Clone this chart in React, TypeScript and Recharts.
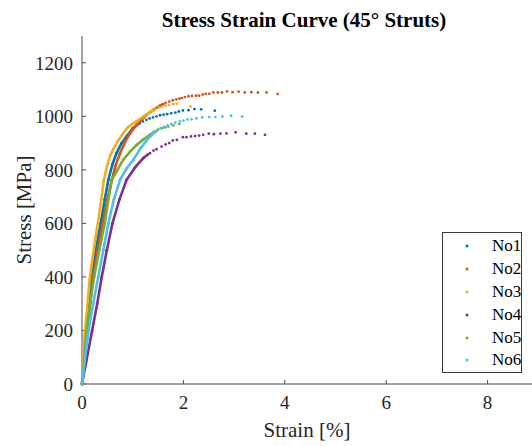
import React from "react";
import { ScatterChart, Scatter, XAxis, YAxis } from "recharts";

// Strain [%], stress [MPa] pairs per specimen.
// "dense" = the closely sampled loading part, "tail" = the sparser points near failure.
const no1Dense: [number, number][] = [
  [0, 0], [0.04, 80], [0.08, 200], [0.13, 300], [0.19, 400], [0.27, 500], [0.37, 600],
  [0.45, 690], [0.52, 763], [0.6, 820], [0.68, 862], [0.78, 900], [0.88, 925], [1.0, 955], [1.14, 975],
];
const no1Tail: [number, number][] = [
  [1.2, 981], [1.27, 987], [1.33, 992], [1.4, 996], [1.47, 1000], [1.54, 1004], [1.61, 1006],
  [1.68, 1008], [1.76, 1011], [1.84, 1014], [1.91, 1018], [1.99, 1022], [2.1, 1023], [2.22, 1027],
  [2.35, 1026], [2.62, 1021],
];

const no2Dense: [number, number][] = [
  [0, 0], [0.05, 80], [0.1, 200], [0.16, 300], [0.22, 400], [0.3, 490], [0.38, 570], [0.44, 630],
  [0.5, 690], [0.59, 763], [0.66, 815], [0.75, 862], [0.85, 905], [0.95, 937], [1.05, 962],
  [1.14, 981], [1.27, 1005], [1.41, 1024], [1.54, 1040], [1.6, 1045],
];
const no2Tail: [number, number][] = [
  [1.65, 1050], [1.72, 1055], [1.79, 1060], [1.86, 1063], [1.92, 1066], [1.97, 1068], [2.03, 1072],
  [2.1, 1075], [2.17, 1076], [2.25, 1077], [2.31, 1077], [2.38, 1081], [2.44, 1084], [2.51, 1084],
  [2.59, 1089], [2.68, 1089], [2.76, 1089], [2.86, 1093], [2.97, 1090], [3.09, 1092], [3.21, 1089],
  [3.34, 1090], [3.47, 1089], [3.64, 1089], [3.86, 1083],
];

const no3Dense: [number, number][] = [
  [0, 0], [0.02, 60], [0.05, 180], [0.1, 280], [0.15, 390], [0.2, 460], [0.26, 540], [0.32, 610],
  [0.38, 690], [0.43, 760], [0.5, 820], [0.56, 855], [0.62, 878], [0.7, 905], [0.81, 937],
  [0.9, 958], [1.0, 972], [1.08, 981], [1.2, 998], [1.31, 1012], [1.4, 1024],
];
const no3Tail: [number, number][] = [
  [1.45, 1028], [1.52, 1033], [1.58, 1036], [1.65, 1040], [1.72, 1043], [1.8, 1045], [1.87, 1047],
  [2.14, 1037],
];

const no4Dense: [number, number][] = [
  [0, 0], [0.08, 80], [0.2, 200], [0.3, 300], [0.39, 400], [0.49, 500], [0.6, 600], [0.74, 690],
  [0.88, 763], [1.05, 810], [1.21, 844], [1.3, 857],
];
const no4Tail: [number, number][] = [
  [1.34, 862], [1.41, 872], [1.47, 877], [1.57, 887], [1.65, 895], [1.72, 900], [1.79, 910],
  [1.87, 912], [1.99, 922], [2.06, 922], [2.15, 925], [2.23, 926], [2.31, 928], [2.39, 931],
  [2.5, 935], [2.6, 933], [2.73, 935], [2.85, 936], [3.03, 940], [3.24, 935], [3.41, 935], [3.61, 931],
];

const no5Dense: [number, number][] = [
  [0, 0], [0.04, 80], [0.09, 200], [0.16, 300], [0.24, 400], [0.34, 500], [0.45, 600], [0.52, 690],
  [0.59, 763], [0.7, 800], [0.81, 837], [0.95, 868], [1.08, 893], [1.2, 912], [1.34, 931], [1.44, 944],
];
const no5Tail: [number, number][] = [
  [1.5, 950], [1.58, 955], [1.64, 959], [1.7, 962], [1.8, 966], [1.92, 971],
];

const no6Dense: [number, number][] = [
  [0, 0], [0.05, 80], [0.13, 200], [0.22, 300], [0.32, 400], [0.42, 500], [0.52, 600], [0.63, 690],
  [0.75, 763], [0.88, 805], [1.01, 837], [1.17, 885], [1.34, 925], [1.48, 946],
];
const no6Tail: [number, number][] = [
  [1.55, 955], [1.62, 960], [1.69, 966], [1.76, 971], [1.84, 976], [1.93, 981], [2.0, 984],
  [2.08, 988], [2.16, 989], [2.26, 992], [2.37, 996], [2.51, 997], [2.63, 997], [2.77, 999],
  [2.94, 1002], [3.16, 999],
];

const strainTicks = [0, 2, 4, 6, 8];
const stressTicks = [0, 200, 400, 600, 800, 1000, 1200];

const specimens = [
  { name: "No1", color: "#0072BD", dense: no1Dense, tail: no1Tail },
  { name: "No2", color: "#D95319", dense: no2Dense, tail: no2Tail },
  { name: "No3", color: "#EDB120", dense: no3Dense, tail: no3Tail },
  { name: "No4", color: "#7E2F8E", dense: no4Dense, tail: no4Tail },
  { name: "No5", color: "#77AC30", dense: no5Dense, tail: no5Tail },
  { name: "No6", color: "#4DBEEE", dense: no6Dense, tail: no6Tail },
];

const toPoints = (rows: [number, number][]) => rows.map(([x, y]) => ({ x, y }));

const FONT = '"Liberation Serif", "Times New Roman", serif';
const INK = "#262626";

const dot = (color: string, r: number) => (p: any) =>
  <circle cx={p.cx} cy={p.cy} r={r} fill={color} />;

export default function App() {
  return (
    <div
      style={{
        position: "fixed",
        left: 0,
        top: 0,
        width: 532,
        height: 446,
        overflow: "hidden",
        background: "#fff",
        fontFamily: FONT,
      }}
    >
      {/* keep every svg label in the serif face */}
      <style>{`.recharts-wrapper text { font-family: ${FONT} !important; }`}</style>
      <div
        style={{
          position: "absolute",
          left: 0,
          width: 608,
          top: 10,
          textAlign: "center",
          fontSize: 21,
          lineHeight: "21px",
          fontWeight: "bold",
          color: "#000",
        }}
      >
        Stress Strain Curve (45° Struts)
      </div>

      <ScatterChart width={532} height={446} margin={{ top: 36, right: 0, bottom: 0, left: 0 }}>
        <XAxis
          type="number"
          dataKey="x"
          domain={[0, 8.876]}
          ticks={strainTicks}
          interval={0}
          height={62}
          tickSize={-4}
          tickMargin={16}
          axisLine={{ stroke: "#4a4a4a" }}
          tickLine={{ stroke: "#4a4a4a" }}
          tick={{ fill: INK, fontSize: 19, fontFamily: FONT }}
          label={{
            value: "Strain [%]",
            position: "insideBottom",
            offset: 9,
            fill: INK,
            fontSize: 21,
            fontFamily: FONT,
          }}
        />
        <YAxis
          type="number"
          dataKey="y"
          domain={[0, 1300]}
          ticks={stressTicks}
          interval={0}
          width={82}
          tickSize={-4}
          tickMargin={13}
          axisLine={{ stroke: "#4a4a4a" }}
          tickLine={{ stroke: "#4a4a4a" }}
          tick={{ fill: INK, fontSize: 19, fontFamily: FONT }}
          label={{
            value: "Stress [MPa]",
            angle: -90,
            position: "insideLeft",
            offset: 24,
            fill: INK,
            fontSize: 21,
            fontFamily: FONT,
            style: { textAnchor: "middle" },
          }}
        />
        {specimens.flatMap((s) => [
          <Scatter
            key={s.name + "-dense"}
            name={s.name}
            data={toPoints(s.dense)}
            line={{ stroke: s.color, strokeWidth: 2.6 }}
            shape={dot(s.color, 1.4)}
            isAnimationActive={false}
          />,
          <Scatter
            key={s.name + "-tail"}
            name={s.name + " tail"}
            data={toPoints(s.tail)}
            shape={dot(s.color, 1.4)}
            legendType="none"
            isAnimationActive={false}
          />,
        ])}
      </ScatterChart>

      <div
        style={{
          position: "absolute",
          left: 442,
          top: 232,
          width: 80,
          height: 141,
          boxSizing: "border-box",
          border: "1px solid #3a3a3a",
          background: "#fff",
          paddingTop: 2,
        }}
      >
        {specimens.map((s) => (
          <div
            key={s.name}
            style={{ display: "flex", alignItems: "center", height: 22.8, fontSize: 17, color: "#000" }}
          >
            <svg width={49} height={22} style={{ flex: "none" }}>
              <circle cx={24} cy={11} r={1.5} fill={s.color} />
            </svg>
            <span style={{ lineHeight: "22px" }}>{s.name}</span>
          </div>
        ))}
      </div>
    </div>
  );
}
